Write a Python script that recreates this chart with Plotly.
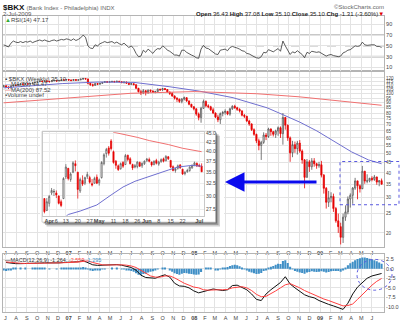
import math
import pandas as pd
import plotly.graph_objects as go

W, H = 400, 323
def PX(p): return p / W
def PY(p): return 1 - p / H

# ---------------- weekly $BKX data (Jun 2006 - Jul 2009) ----------------
weeks = pd.date_range("2006-06-26", periods=158, freq="7D")
first_open = 108.5
close = [
    109.5,
    108.0, 107.2, 109.5, 110.3, 110.0,
    111.2, 112.0, 111.5, 112.3,
    111.8, 112.5, 113.4, 114.2,
    114.8, 115.6, 115.2, 116.0, 115.4,
    114.9, 116.2, 116.8, 115.9,
    116.5, 117.4, 117.0, 117.8,
    117.2, 116.5, 117.9, 116.8, 117.5,
    118.4, 119.3, 118.6, 112.8,
    111.0, 110.2, 112.5, 111.6,
    112.8, 113.9, 115.0, 114.2, 114.8,
    115.3, 114.6, 115.5, 114.9,
    113.7, 114.5, 112.9, 111.5,
    112.3, 111.0, 106.5, 102.4, 101.0,
    103.5, 101.2, 104.0, 103.1,
    101.8, 102.6, 105.3, 104.5,
    106.2, 105.0, 102.0, 100.3, 97.5,
    95.0, 93.8, 91.5, 94.0,
    95.5, 92.0, 88.5, 86.0, 84.0,
    79.0, 76.0, 84.5, 91.5,
    87.0, 86.0, 83.0, 80.0,
    76.5, 74.0, 79.5, 80.5, 81.5,
    79.0, 84.0, 86.5, 85.0,
    83.5, 82.0, 78.0, 77.0,
    73.0, 70.5, 66.0, 62.5, 58.0,
    55.0, 57.0, 62.0, 61.0,
    66.5, 64.5, 62.5, 65.0,
    67.5, 63.0, 76.0, 69.5, 60.0,
    50.5, 55.5, 53.0, 56.5,
    51.5, 46.5, 38.0, 45.5,
    43.0, 46.0, 44.5, 43.5, 44.0,
    39.0, 33.5, 28.5, 30.0,
    30.5, 26.5, 23.0, 21.5,
    19.0, 24.0, 25.5, 29.6, 30.9,
    33.6, 36.5, 34.5, 33.3,
    40.8, 36.4, 36.5, 37.6,
    37.1, 38.2, 36.0, 36.6, 35.1,
]
high = [
    111.0,
    110.5, 109.0, 110.0, 111.0, 111.5,
    112.0, 113.0, 112.5, 113.0,
    113.0, 113.5, 114.0, 115.0,
    115.5, 116.5, 116.5, 116.8, 116.5,
    116.0, 117.0, 117.5, 117.0,
    117.5, 118.0, 118.0, 118.5,
    118.5, 118.0, 118.5, 118.2, 118.3,
    119.0, 120.0, 119.8, 119.0,
    113.5, 112.5, 113.0, 113.0,
    113.3, 114.5, 115.8, 115.5, 115.5,
    116.0, 116.0, 116.2, 116.0,
    115.5, 115.0, 115.0, 113.5,
    113.0, 113.0, 111.5, 107.0, 104.5,
    105.5, 104.5, 105.0, 105.0,
    104.0, 103.5, 106.5, 106.0,
    107.0, 106.8, 105.5, 102.5, 102.0,
    98.0, 96.0, 94.5, 95.0,
    96.8, 96.0, 92.5, 89.0, 86.5,
    84.5, 80.5, 86.0, 93.5,
    92.5, 88.5, 87.0, 85.0,
    80.5, 78.5, 80.5, 82.0, 83.5,
    82.0, 85.0, 87.5, 88.0,
    86.0, 84.5, 82.5, 79.0,
    77.5, 74.0, 71.0, 67.0, 63.0,
    59.5, 58.0, 64.0, 63.5,
    67.5, 67.0, 65.0, 66.0,
    68.5, 68.5, 80.0, 76.5, 70.0,
    61.0, 58.0, 57.5, 58.0,
    58.5, 52.5, 47.0, 47.0,
    46.5, 47.5, 47.5, 45.0, 45.5,
    46.0, 39.5, 34.0, 32.5,
    32.0, 31.5, 27.0, 25.0,
    22.5, 25.0, 27.5, 30.5, 31.6,
    34.0, 37.8, 36.6, 35.0,
    43.4, 41.0, 39.4, 37.8,
    38.5, 39.1, 38.3, 36.8, 37.5,
]
low = [
    107.5,
    107.0, 105.5, 106.0, 108.0, 109.0,
    109.0, 110.5, 110.5, 111.0,
    111.0, 111.0, 112.0, 113.0,
    113.5, 114.5, 114.5, 114.8, 114.5,
    114.0, 114.5, 115.5, 114.8,
    115.5, 116.0, 116.2, 116.5,
    116.0, 115.5, 116.0, 116.0, 116.0,
    116.8, 117.5, 117.8, 111.5,
    109.5, 108.5, 109.5, 110.5,
    111.0, 112.0, 113.5, 113.5, 113.5,
    114.0, 114.0, 114.3, 114.2,
    113.0, 112.5, 112.5, 110.5,
    110.8, 110.5, 105.5, 101.5, 98.5,
    99.5, 98.0, 100.0, 101.5,
    100.8, 100.5, 101.5, 103.5,
    103.5, 104.2, 101.5, 98.5, 96.5,
    93.5, 91.0, 90.0, 89.5,
    92.5, 91.0, 87.5, 85.0, 82.5,
    77.5, 73.5, 71.5, 84.0,
    85.5, 84.5, 82.0, 79.0,
    75.5, 72.0, 70.5, 77.0, 78.5,
    78.0, 77.5, 83.0, 84.0,
    82.0, 80.5, 77.0, 75.5,
    72.0, 69.0, 65.0, 61.5, 56.5,
    52.0, 46.5, 56.0, 58.5,
    60.0, 61.5, 61.0, 60.0,
    61.5, 60.0, 55.5, 66.0, 58.0,
    45.5, 48.0, 50.5, 49.5,
    50.5, 44.5, 33.5, 38.0,
    40.5, 41.5, 43.0, 42.0, 42.5,
    38.0, 31.5, 26.5, 27.0,
    28.5, 25.5, 22.5, 20.0,
    17.5, 17.8, 23.0, 24.8, 26.8,
    28.0, 32.9, 29.5, 31.9,
    33.6, 35.3, 35.5, 35.9,
    36.3, 36.5, 34.9, 34.3, 35.1,
]
opens = [first_open] + close[:-1]

rsi = [
    52,
    50, 48, 55, 59, 57,
    56, 58, 56, 58,
    57, 59, 56, 58,
    60, 61, 59, 61, 59,
    58, 60, 61, 59,
    60, 62, 61, 63,
    62, 60, 63, 60, 62,
    65, 70, 66, 50,
    46, 45, 52, 50,
    54, 56, 58, 56, 57,
    58, 55, 57, 54,
    52, 55, 50, 47,
    50, 45, 36, 30, 31,
    42, 38, 44, 40,
    36, 42, 45, 44,
    50, 47, 42, 40, 37,
    33, 33, 31, 42,
    42, 38, 35, 33, 31,
    28, 27, 44, 51,
    46, 45, 42, 38,
    35, 34, 42, 43, 44,
    41, 47, 49, 48,
    46, 44, 41, 40,
    36, 35, 32, 30, 28,
    27, 30, 38, 37,
    43, 41, 39, 42,
    45, 40, 59, 50, 41,
    34, 39, 37, 41,
    37, 34, 28, 38,
    36, 40, 39, 38, 39,
    36, 34, 31, 33,
    34, 32, 31, 30,
    31, 37, 39, 42, 43,
    47, 50, 49, 50,
    57, 52, 51, 52,
    52, 52, 49, 49, 47.17,
]

macd_hist = [
    -0.5,
    -0.6, -0.5, -0.3, 0.1, 0.1,
    0.0, 0.1, 0.0, 0.1,
    0.0, 0.0, 0.1, 0.1,
    0.1, 0.2, 0.1, 0.1, 0.0,
    -0.1, 0.0, 0.0, -0.1,
    0.0, 0.1, 0.1, 0.2,
    0.2, 0.1, 0.2, 0.1, 0.2,
    0.3, 0.4, 0.3, -0.2,
    -0.5, -0.6, -0.5, -0.4,
    -0.3, -0.2, -0.1, 0.0, 0.0,
    0.1, 0.0, 0.1, 0.0,
    -0.1, -0.1, -0.3, -0.5,
    -0.6, -0.8, -1.2, -1.6, -1.7,
    -1.4, -1.3, -1.0, -0.8,
    -0.7, -0.5, -0.2, 0.0,
    0.2, 0.2, 0.0, -0.4, -0.8,
    -1.2, -1.4, -1.6, -1.3,
    -1.1, -1.2, -1.3, -1.4, -1.5,
    -1.6, -1.5, -0.9, 0.0,
    0.3, 0.3, 0.2, 0.0,
    -0.3, -0.4, -0.1, 0.1, 0.3,
    0.4, 0.7, 0.9, 1.0,
    0.9, 0.6, 0.2, -0.1,
    -0.5, -0.8, -1.0, -1.2, -1.4,
    -1.3, -1.1, -0.6, -0.3,
    0.2, 0.5, 0.7, 1.0,
    1.3, 1.2, 2.0, 2.2, 1.5,
    0.5, -0.2, -0.6, -0.8,
    -1.0, -1.1, -1.3, -1.0,
    -0.9, -0.7, -0.8, -0.9, -0.8,
    -0.7, -0.8, -1.0, -0.9,
    -0.7, -0.6, -0.6, -0.6,
    -0.8, -0.3, 0.3, 0.9, 1.4,
    1.8, 2.2, 2.5, 2.7,
    2.9, 2.9, 2.8, 2.6,
    2.4, 2.2, 1.9, 1.6, 1.3,
]
# MACD / signal read every second week (weeks[1::2])
macd_line = [
    1.6, 1.4, 1.3, 1.3, 1.3, 1.3, 1.35, 1.45, 1.5, 1.45, 1.45, 1.5, 1.6,
    1.7, 1.75, 1.8, 2.1, 1.6, 1.0, 0.85, 0.9, 1.05, 1.1, 1.05, 0.9, 0.6, 0.3,
    -0.4, -1.7, -2.3, -2.5, -2.5, -2.0, -1.6, -2.2, -3.8, -4.5, -4.6, -5.0, -5.8,
    -6.3, -5.9, -5.5, -5.3, -5.5, -5.7, -5.5, -4.4, -4.3, -4.8, -5.5, -6.6, -8.0,
    -8.3, -6.6, -5.5, -4.5, -3.6, -2.1, -4.0, -5.0, -6.0, -6.8, -7.3, -7.6, -8.3,
    -8.9, -9.3, -9.7, -10.2, -10.6, -9.0, -6.6, -4.8, -3.6, -2.5, -1.9, -1.5, -1.26,
]
signal_line = [
    1.75, 1.6, 1.5, 1.4, 1.35, 1.35, 1.35, 1.4, 1.45, 1.45, 1.45, 1.5, 1.55,
    1.55, 1.6, 1.7, 1.9, 2.0, 1.6, 1.2, 1.0, 0.95, 1.0, 1.05, 1.0, 0.9, 0.7,
    0.3, -0.5, -1.3, -1.9, -2.2, -2.2, -1.9, -1.9, -2.4, -3.2, -3.8, -4.3, -4.8,
    -5.0, -5.5, -5.6, -5.5, -5.5, -5.5, -5.4, -5.0, -4.8, -4.7, -5.0, -5.7, -6.7,
    -7.3, -7.2, -6.6, -5.8, -5.0, -4.2, -3.9, -4.4, -5.0, -5.7, -6.3, -6.8, -7.4,
    -7.9, -8.3, -8.8, -9.3, -9.7, -9.6, -9.2, -8.0, -6.8, -5.4, -4.3, -3.3, -2.56,
]

ma50_dates = ["2006-06-26", "2006-09-20", "2006-12-15", "2007-04-01", "2007-07-10",
              "2007-10-20", "2008-01-17", "2008-04-23", "2008-07-31", "2008-09-15",
              "2008-11-03", "2008-12-23", "2009-02-10", "2009-04-03", "2009-05-22",
              "2009-06-29"]
ma50_vals = [107, 110, 112.5, 114.5, 114, 108.5, 103, 95.5, 85, 78.5, 72, 65,
             57.5, 51, 46.5, 44.5]
ma200_dates = ["2006-06-26", "2007-01-01", "2007-07-01", "2008-01-01", "2008-07-01",
               "2008-11-01", "2009-02-01", "2009-05-01", "2009-06-29"]
ma200_vals = [90, 95.5, 100.5, 102.5, 100, 96.5, 93, 89.5, 87.5]

month_ticks = list(pd.date_range("2006-07-01", "2009-06-01", freq="MS"))
month_text = ["J", "A", "S", "O", "N", "D",
              "<b>07</b>", "F", "M", "A", "M", "J", "J", "A", "S", "O", "N", "D",
              "<b>08</b>", "F", "M", "A", "M", "J", "J", "A", "S", "O", "N", "D",
              "<b>09</b>", "F", "M", "A", "M", "J"]
price_ticks = [20, 25, 30, 35, 40, 45, 50, 55, 60, 65, 70, 75, 80, 85, 90, 95,
               100, 105, 110, 115, 120]
rsi_ticks = [10, 30, 50, 70, 90]
macd_ticks = [2.5, 0, -2.5, -5, -7.5, -10]
macd_ticktext = ["2.5", "0.0", "-2.5", "-5.0", "-7.5", "-10.0"]

# ---------------- daily inset (Mar 30 - Jul 2 2009) ----------------
in_dates = ['2009-03-30', '2009-03-31', '2009-04-01', '2009-04-02', '2009-04-03',
            '2009-04-06', '2009-04-07', '2009-04-08', '2009-04-09', '2009-04-13',
            '2009-04-14', '2009-04-15', '2009-04-16', '2009-04-17', '2009-04-20',
            '2009-04-21', '2009-04-22', '2009-04-23', '2009-04-24', '2009-04-27',
            '2009-04-28', '2009-04-29', '2009-04-30', '2009-05-01', '2009-05-04',
            '2009-05-05', '2009-05-06', '2009-05-07', '2009-05-08', '2009-05-11',
            '2009-05-12', '2009-05-13', '2009-05-14', '2009-05-15', '2009-05-18',
            '2009-05-19', '2009-05-20', '2009-05-21', '2009-05-22', '2009-05-26',
            '2009-05-27', '2009-05-28', '2009-05-29', '2009-06-01', '2009-06-02',
            '2009-06-03', '2009-06-04', '2009-06-05', '2009-06-08', '2009-06-09',
            '2009-06-10', '2009-06-11', '2009-06-12', '2009-06-15', '2009-06-16',
            '2009-06-17', '2009-06-18', '2009-06-19', '2009-06-22', '2009-06-23',
            '2009-06-24', '2009-06-25', '2009-06-26', '2009-06-29', '2009-06-30',
            '2009-07-01', '2009-07-02']
in_open = [29.5, 27.3, 28.6, 30.6, 30.8, 30.6, 30.0, 28.9, 29.5, 34.0, 35.9, 33.4,
           35.0, 37.0, 35.0, 31.0, 33.2, 32.6, 34.0, 33.8, 32.5, 32.6, 33.9, 32.7,
           33.8, 37.0, 39.5, 41.0, 42.9, 40.0, 37.6, 36.5, 35.8, 37.3, 36.8, 39.1,
           38.2, 36.8, 36.2, 36.3, 37.3, 36.5, 37.0, 37.8, 38.0, 37.4, 36.8, 37.8,
           36.9, 37.5, 38.2, 37.7, 38.7, 37.8, 36.3, 35.4, 35.9, 36.7, 35.7, 34.7,
           35.1, 35.4, 36.0, 36.7, 37.1, 36.6, 36.43]
in_high = [29.6, 29.6, 30.2, 31.6, 31.4, 31.1, 30.1, 29.3, 33.9, 36.9, 36.0, 35.0,
           37.6, 37.8, 35.1, 33.8, 34.3, 34.0, 35.1, 34.2, 33.5, 34.0, 34.5, 33.6,
           37.6, 39.6, 41.0, 41.5, 43.4, 40.3, 37.9, 36.8, 37.3, 37.6, 39.4, 39.2,
           38.6, 37.0, 36.9, 37.6, 37.5, 37.3, 37.8, 38.4, 38.5, 37.5, 37.8, 38.2,
           37.7, 38.3, 38.5, 39.1, 38.9, 37.9, 36.6, 36.0, 36.8, 36.9, 35.8, 35.3,
           35.8, 36.4, 36.8, 37.5, 37.3, 37.0, 37.08]
in_low = [26.8, 27.2, 28.0, 30.2, 30.0, 29.6, 28.4, 27.9, 29.4, 33.5, 33.2, 32.9,
          34.8, 35.2, 29.5, 30.6, 32.0, 32.2, 33.5, 32.5, 31.9, 32.5, 32.4, 32.1,
          33.6, 36.6, 38.5, 39.0, 40.3, 37.0, 35.8, 35.3, 35.6, 36.0, 36.7, 37.6,
          36.8, 35.5, 35.9, 35.9, 36.2, 36.0, 36.7, 37.4, 37.3, 36.3, 36.6, 36.8,
          36.5, 37.2, 37.3, 37.6, 37.9, 36.0, 35.2, 34.9, 35.6, 35.8, 34.4, 34.3,
          34.9, 35.1, 35.8, 36.4, 36.2, 36.2, 35.10]
in_close = [27.1, 28.9, 29.9, 31.1, 30.9, 30.2, 28.6, 28.2, 33.6, 36.2, 33.6, 34.6,
            37.2, 36.5, 31.3, 33.4, 32.4, 33.8, 34.5, 32.8, 32.2, 33.6, 32.6, 33.3,
            37.3, 39.2, 40.6, 39.6, 40.8, 37.3, 36.6, 35.6, 37.0, 36.4, 39.0, 38.0,
            37.0, 36.0, 36.5, 37.4, 36.4, 37.1, 37.6, 38.1, 37.6, 36.7, 37.6, 37.1,
            37.4, 38.0, 37.6, 38.8, 38.2, 36.2, 35.4, 35.8, 36.5, 36.0, 34.6, 34.9,
            35.4, 36.2, 36.6, 37.2, 36.5, 36.41, 35.10]
in_ma50_dates = ['2009-04-09', '2009-04-14', '2009-04-21', '2009-04-30', '2009-05-08',
                 '2009-05-15', '2009-05-22', '2009-06-02', '2009-06-12', '2009-06-18',
                 '2009-06-26', '2009-07-02']
in_ma50 = [25.9, 26.6, 27.2, 28.3, 30.2, 31.8, 33.0, 34.1, 35.5, 36.2, 36.6, 36.4]
in_ma200_dates = ['2009-05-08', '2009-05-11', '2009-05-26', '2009-06-02',
                  '2009-06-12', '2009-06-22', '2009-07-02']
in_ma200 = [45.9, 45.4, 43.9, 43.0, 41.9, 40.9, 40.0]
in_tickvals = ['2009-04-01', '2009-04-06', '2009-04-13', '2009-04-20', '2009-04-27',
               '2009-05-01', '2009-05-11', '2009-05-18', '2009-05-26', '2009-06-01',
               '2009-06-08', '2009-06-15', '2009-06-22', '2009-07-01']
in_ticktext = ['<b>Apr</b>', '6', '13', '20', '27', '<b>May</b>', '11', '18', '26',
               '<b>Jun</b>', '8', '15', '22', '<b>Jul</b>']
in_yticks = [27.5, 30.0, 32.5, 35.0, 37.5, 40.0, 42.5, 45.0]
in_yticktext = ["27.5", "30.0", "32.5", "35.0", "37.5", "40.0", "42.5", "45.0"]

RED = "#e60000"
UPLINE = "#555555"
GRID = "#e3e3e3"
FRAME = "#b4b4b4"
FONT = "Liberation Sans"

fig = go.Figure()
fig.add_trace(go.Candlestick(
    x=weeks, open=opens, high=high, low=low, close=close, xaxis="x", yaxis="y",
    increasing=dict(line=dict(color=UPLINE, width=0.8), fillcolor="white"),
    decreasing=dict(line=dict(color=RED, width=0.8), fillcolor=RED),
    whiskerwidth=0, hoverinfo="skip", showlegend=False))
fig.add_trace(go.Scatter(x=ma50_dates, y=ma50_vals, mode="lines", xaxis="x", yaxis="y",
                         line=dict(color="#6f6fcf", width=1), hoverinfo="skip"))
fig.add_trace(go.Scatter(x=ma200_dates, y=ma200_vals, mode="lines", xaxis="x", yaxis="y",
                         line=dict(color="#f07070", width=1), hoverinfo="skip"))
fig.add_trace(go.Scatter(x=weeks, y=rsi, mode="lines", xaxis="x2", yaxis="y2",
                         line=dict(color="#333333", width=0.8), hoverinfo="skip"))
fig.add_trace(go.Bar(x=weeks, y=macd_hist, xaxis="x3", yaxis="y3",
                     width=6 * 86400000, marker=dict(color="#3f8fc6", line=dict(width=0)),
                     hoverinfo="skip"))
fig.add_trace(go.Scatter(x=weeks[1::2], y=macd_line, mode="lines", xaxis="x3", yaxis="y3",
                         line=dict(color="#111111", width=1), hoverinfo="skip"))
fig.add_trace(go.Scatter(x=weeks[1::2], y=signal_line, mode="lines", xaxis="x3", yaxis="y3",
                         line=dict(color="#ff4040", width=1), hoverinfo="skip"))

# inset frame (decoration subplot drawn in pixel units)
def rect(x0, y0, x1, y1):
    return [x0, x1, x1, x0, x0], [y0, y0, y1, y1, y0]
for k, a in [(4.5, 0.22), (3.0, 0.3), (1.5, 0.38)]:
    xs, ys = rect(42 + k, 130 + k, 215.5 + k, 221.5 + k)
    fig.add_trace(go.Scatter(x=xs, y=ys, fill="toself", mode="lines", xaxis="x4", yaxis="y4",
                             fillcolor=f"rgba(40,40,40,{a})", line=dict(width=0),
                             hoverinfo="skip"))
xs, ys = rect(42, 130, 215.5, 221.5)
fig.add_trace(go.Scatter(x=xs, y=ys, fill="toself", mode="lines", xaxis="x4", yaxis="y4",
                         fillcolor="white", line=dict(color="#b8b8b8", width=0.6),
                         hoverinfo="skip"))

fig.add_trace(go.Candlestick(
    x=in_dates, open=in_open, high=in_high, low=in_low, close=in_close,
    xaxis="x5", yaxis="y5",
    increasing=dict(line=dict(color=UPLINE, width=0.7), fillcolor="white"),
    decreasing=dict(line=dict(color=RED, width=0.7), fillcolor=RED),
    whiskerwidth=0, hoverinfo="skip", showlegend=False))
fig.add_trace(go.Scatter(x=in_ma50_dates, y=in_ma50, mode="lines", xaxis="x5", yaxis="y5",
                         line=dict(color="#6f6fcf", width=1), hoverinfo="skip"))
fig.add_trace(go.Scatter(x=in_ma200_dates, y=in_ma200, mode="lines", xaxis="x5", yaxis="y5",
                         line=dict(color="#f07070", width=1), hoverinfo="skip"))

xdom = [PX(3), PX(384)]
xrange = ["2006-06-24", "2009-07-06"]
common_x = dict(domain=xdom, type="date", range=xrange, tickvals=month_ticks,
                ticktext=month_text, showgrid=True, gridcolor=GRID, gridwidth=1,
                showline=True, linecolor=FRAME, linewidth=1, mirror=True, ticks="",
                tickangle=0, tickfont=dict(size=5.5, color="#444"), fixedrange=True)
common_y = dict(side="right", showgrid=True, gridcolor=GRID, showline=True,
                linecolor=FRAME, linewidth=1, mirror=True, ticks="",
                tickfont=dict(size=5.5, color="#444"), fixedrange=True, zeroline=False)

fig.update_layout(
    width=W, height=H, margin=dict(l=0, r=0, t=0, b=0),
    paper_bgcolor="white", plot_bgcolor="white", showlegend=False,
    font=dict(family=FONT, size=6, color="#333"),
    xaxis=dict(common_x, anchor="y", rangeslider=dict(visible=False)),
    yaxis=dict(common_y, anchor="x", domain=[PY(247), PY(69)], type="log",
               range=[math.log10(16.9), math.log10(130.7)], tickvals=price_ticks,
               tickfont=dict(size=4.6, color="#444")),
    xaxis2=dict(common_x, anchor="y2", matches="x", showticklabels=False),
    yaxis2=dict(common_y, anchor="x2", domain=[PY(69), PY(14)], range=[4.2, 105.6],
                tickvals=rsi_ticks),
    xaxis3=dict(common_x, anchor="y3", matches="x"),
    yaxis3=dict(common_y, anchor="x3", domain=[PY(312), PY(254)], range=[-11.3, 3.7],
                tickvals=macd_ticks, ticktext=macd_ticktext),
    xaxis4=dict(domain=[PX(40), PX(224)], anchor="y4", range=[40, 224], visible=False,
                fixedrange=True),
    yaxis4=dict(domain=[PY(230), PY(128)], anchor="x4", range=[230, 128], visible=False,
                fixedrange=True),
    xaxis5=dict(domain=[PX(43), PX(204)], anchor="y5", type="category", range=[-0.6, 67],
                tickvals=in_tickvals, ticktext=in_ticktext, showgrid=True,
                gridcolor="#ededed", showline=True, linecolor="#c8c8c8", mirror=True,
                ticks="", tickangle=0, tickfont=dict(size=5.5, color="#444"),
                rangeslider=dict(visible=False), fixedrange=True),
    yaxis5=dict(domain=[PY(215), PY(131)], anchor="x5", type="log", side="right",
                range=[math.log10(26.4), math.log10(45.4)], tickvals=in_yticks,
                ticktext=in_yticktext, showgrid=True, gridcolor="#ededed",
                showline=True, linecolor="#c8c8c8", mirror=True, ticks="",
                tickfont=dict(size=5, color="#444"), fixedrange=True, zeroline=False),
)

shapes = [
    dict(type="line", xref="paper", x0=xdom[0], x1=xdom[1], yref="y2", y0=70, y1=70,
         line=dict(color="#c8c8c8", width=2), layer="below"),
    dict(type="line", xref="paper", x0=xdom[0], x1=xdom[1], yref="y2", y0=30, y1=30,
         line=dict(color="#c8c8c8", width=2), layer="below"),
    dict(type="line", xref="paper", x0=xdom[0], x1=xdom[1], yref="y2", y0=50, y1=50,
         line=dict(color="#888888", width=0.8, dash="dash"), layer="below"),
    dict(type="rect", xref="paper", yref="paper", x0=PX(340), x1=PX(399),
         y0=PY(204), y1=PY(160.5), line=dict(color="#5a5ae0", width=1, dash="dot")),
    dict(type="circle", xref="paper", yref="paper", x0=PX(357), x1=PX(392),
         y0=PY(290), y1=PY(259), line=dict(color="#5a5ae0", width=1, dash="dot")),
]

def ann(x, y, text, size=6, anchor="left", color="#333"):
    return dict(x=PX(x), y=PY(y), xref="paper", yref="paper", text=text,
                showarrow=False, xanchor=anchor, yanchor="middle",
                font=dict(size=size, color=color, family=FONT))

annotations = [
    ann(1, 5.5, "<b>$BKX</b> <span style='font-size:6px;color:#666'>(Bank Index - Philadelphia) INDX</span>", size=8, color="#111"),
    ann(1, 12, "2-Jul-2009", size=6, color="#555"),
    ann(386, 5, "©StockCharts.com", size=6, anchor="right", color="#666"),
    ann(386, 12.5, "<b>Open</b> 36.43 <b>High</b> 37.08 <b>Low</b> 35.10 <b>Close</b> 35.10 "
                   "<b>Chg</b> -1.31 (-3.60%)<span style='color:#e00000'>▼</span>",
        size=6, anchor="right", color="#222"),
    ann(3, 18, "<span style='color:#3a3'>▲</span>RSI(14) 47.17", size=6, color="#444"),
    ann(3, 77.5, "<span style='color:#333'>▪</span> $BKX (Weekly) 35.10", size=6, color="#444"),
    ann(3, 83, "<span style='color:#6f6fcf'>—</span>MA(50) 44.47", size=6, color="#444"),
    ann(3, 88.5, "<span style='color:#f07070'>—</span>MA(200) 87.52", size=6, color="#444"),
    ann(3, 94, "<span style='color:#555'>▪</span>Volume undef", size=6, color="#444"),
    ann(3, 259.5, "<span style='color:#111'>—</span>MACD(12,26,9) -1.264, "
                  "<span style='color:#ff4040'>-2.559</span>, "
                  "<span style='color:#3f8fc6'>1.295</span>", size=5.5, color="#333"),
    dict(x=PX(225), y=PY(181), xref="paper", yref="paper", text="", showarrow=True,
         ax=93, ay=0, arrowhead=2, arrowsize=1.3, arrowwidth=3, arrowcolor="#0a0aee"),
]
fig.update_layout(shapes=shapes, annotations=annotations)

fig.write_html("out.html")
